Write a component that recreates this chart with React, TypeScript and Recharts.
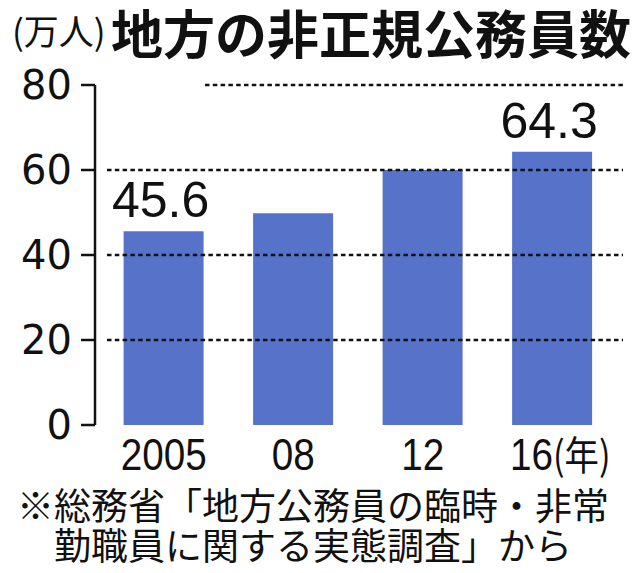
import { BarChart, Bar, XAxis, YAxis, ReferenceLine, LabelList } from "recharts";

const years = ["2005", "08", "12", "16"];
const workers = [45.6, 49.8, 60.0, 64.3];
const labeledYears = ["2005", "16"];
const yTicks = [0, 20, 40, 60, 80];
const gridValues = [20, 40, 60];
const yearUnit = "(年)";
const noteLines = ["※総務省「地方公務員の臨時・非常", "勤職員に関する実態調査」から"];

const data = years.map((year, i) => ({ year, workers: workers[i] }));

const INK = "#111";
const BAR = "#5673C9";
const CJK = "'Noto Sans CJK JP', sans-serif";

// dotted grid line; inset shifts the start to the right
const dotted = (inset: number) => (p: any) => (
  <line
    x1={p.x1 + inset}
    y1={p.y1}
    x2={p.x2 + 3}
    y2={p.y2}
    stroke={INK}
    strokeWidth={2.5}
    strokeDasharray="4.5 3.3"
  />
);

function YearTick(props: any) {
  const { x, y, payload, index } = props;
  const last = index === years.length - 1;
  return (
    <g transform={`translate(${x + (last ? 8 : 0)},${y}) scale(0.86,1)`}>
      <text
        textAnchor="middle"
        dy="0.71em"
        fontFamily="'Liberation Sans', Arial, sans-serif"
        fontSize={45}
        fill={INK}
      >
        {payload.value}
        {last && (
          <tspan fontFamily={CJK} fontSize={40}>
            {yearUnit}
          </tspan>
        )}
      </text>
    </g>
  );
}

function ValueLabel(props: any) {
  const { x, y, width, value, index } = props;
  if (!labeledYears.includes(years[index])) return null;
  return (
    <text
      x={x + width / 2 - 3}
      y={y - 14}
      textAnchor="middle"
      fontFamily="'Liberation Sans', Arial, sans-serif"
      fontSize={50}
      fill={INK}
    >
      {Number(value).toFixed(1)}
    </text>
  );
}

export default function App() {
  return (
    <div
      style={{
        position: "absolute",
        left: 0,
        top: 0,
        width: 640,
        height: 573,
        background: "#fff",
      }}
    >
      <div
        style={{
          position: "absolute",
          left: 12,
          top: 12,
          fontFamily: CJK,
          fontSize: 35,
          lineHeight: 1,
          color: INK,
          whiteSpace: "nowrap",
        }}
      >
        (万人)
      </div>
      <div
        style={{
          position: "absolute",
          left: 111,
          top: 6,
          fontFamily: CJK,
          fontSize: 52,
          fontWeight: 700,
          lineHeight: 1,
          color: INK,
          whiteSpace: "nowrap",
        }}
      >
        地方の非正規公務員数
      </div>

      <div style={{ position: "absolute", left: 0, top: 0 }}>
        <BarChart
          width={640}
          height={573}
          data={data}
          margin={{ top: 85, right: 20, left: 5, bottom: 118 }}
          barCategoryGap="19%"
        >
          {gridValues.map((v) => (
            <ReferenceLine key={v} y={v} shape={dotted(12)} />
          ))}
          <ReferenceLine y={80} shape={dotted(110)} />

          <XAxis
            dataKey="year"
            axisLine={false}
            tickLine={false}
            tickMargin={7}
            height={30}
            interval={0}
            padding={{ left: 4, right: 3 }}
            tick={<YearTick />}
          />
          <YAxis
            domain={[0, 80]}
            ticks={yTicks}
            width={90}
            tickSize={14}
            tickMargin={9}
            axisLine={{ stroke: INK, strokeWidth: 2.5 }}
            tickLine={{ stroke: INK, strokeWidth: 2.5 }}
            tick={{
              fontFamily: "'DejaVu Sans', sans-serif",
              fontSize: 40,
              fill: INK,
            }}
          />

          <Bar dataKey="workers" fill={BAR} isAnimationActive={false}>
            <LabelList dataKey="workers" content={<ValueLabel />} />
          </Bar>
        </BarChart>
      </div>

      {noteLines.map((line, i) => (
        <div
          key={i}
          style={{
            position: "absolute",
            left: 0,
            width: 626,
            top: 486 + i * 40,
            textAlign: "center",
            fontFamily: CJK,
            fontSize: 37,
            lineHeight: 1,
            color: INK,
            whiteSpace: "nowrap",
          }}
        >
          {line}
        </div>
      ))}
    </div>
  );
}
